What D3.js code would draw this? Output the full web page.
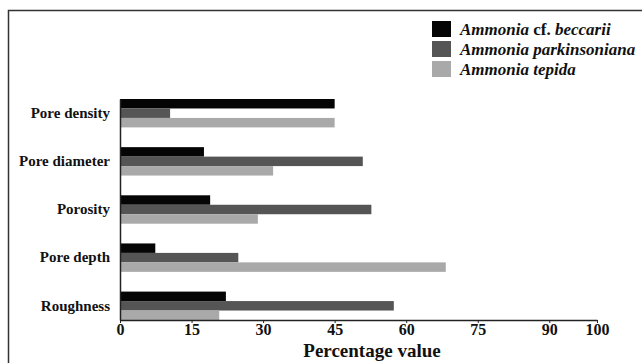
<!DOCTYPE html>
<html>
<head>
<meta charset="utf-8">
<script src="https://d3js.org/d3.v7.min.js"></script>
<style>
body { margin: 0; background: #fff; }
svg { display: block; }
</style>
</head>
<body>
<svg id="chart"></svg>
<script>
// data
const categories = ["Pore density", "Pore diameter", "Porosity", "Pore depth", "Roughness"];
const species = ["beccarii", "parkinsoniana", "tepida"];
const beccarii      = [45, 17.6, 18.9, 7.4, 22.2];
const parkinsoniana = [10.5, 50.9, 52.7, 24.8, 57.4];
const tepida        = [45, 32.1, 28.9, 68.3, 20.8];
const xTicks = [0, 15, 30, 45, 60, 75, 90, 100];

const colors = ["#050505", "#555555", "#a9a9a9"];
const serif = "'Liberation Serif', 'Times New Roman', serif";

const width = 642, height = 363;
const svg = d3.select("#chart").attr("width", width).attr("height", height);

// outer frame (top + left only)
svg.append("path")
    .attr("d", "M8.5,363 V10.5 H642")
    .attr("fill", "none")
    .attr("stroke", "#333")
    .attr("stroke-width", 1.5);

const x = d3.scaleLinear().domain([0, 100]).range([120, 597]);
const y = d3.scaleBand().domain(categories).range([99, 320]).paddingInner(0.41).paddingOuter(0);
const y1 = d3.scaleBand().domain(species).range([0, y.bandwidth()]);

const rows = categories.map((c, i) => ({ cat: c, vals: [beccarii[i], parkinsoniana[i], tepida[i]] }));

const groups = svg.selectAll("g.grp")
    .data(rows)
    .enter().append("g")
    .attr("class", "grp")
    .attr("transform", d => `translate(0,${y(d.cat)})`);

groups.selectAll("rect")
    .data(d => d.vals.map((v, j) => ({ k: species[j], v: v, j: j })))
    .enter().append("rect")
    .attr("x", x(0))
    .attr("y", d => y1(d.k))
    .attr("width", d => x(d.v) - x(0))
    .attr("height", y1.bandwidth())
    .attr("fill", d => colors[d.j]);

// x axis
const xAxis = svg.append("g")
    .attr("transform", "translate(0,320)")
    .call(d3.axisBottom(x).tickValues(xTicks).tickSize(3).tickSizeOuter(0));
xAxis.select(".domain").attr("stroke", "#222").attr("stroke-width", 1.5);
xAxis.selectAll(".tick line").attr("stroke", "#222");
xAxis.selectAll("text")
    .attr("font-family", serif)
    .attr("font-weight", "bold")
    .attr("font-size", 16)
    .attr("fill", "#111")
    .attr("dy", "0.75em")
    .attr("y", 3);

// y axis
const yAxis = svg.append("g")
    .attr("transform", "translate(120,0)")
    .call(d3.axisLeft(y).tickSize(0).tickPadding(10));
yAxis.select(".domain").attr("stroke", "#222").attr("stroke-width", 1.5);
yAxis.selectAll("text")
    .attr("font-family", serif)
    .attr("font-weight", "bold")
    .attr("font-size", 15)
    .attr("fill", "#111");

svg.append("text")
    .attr("x", 372)
    .attr("y", 357)
    .attr("text-anchor", "middle")
    .attr("font-family", serif)
    .attr("font-weight", "bold")
    .attr("font-size", 19)
    .attr("fill", "#111")
    .text("Percentage value");

// legend
const legendLabels = [
    [["Ammonia", true], [" cf. ", false], ["beccarii", true]],
    [["Ammonia parkinsoniana", true]],
    [["Ammonia tepida", true]]
];
const legend = svg.append("g");
legendLabels.forEach((parts, i) => {
    legend.append("rect")
        .attr("x", 432).attr("y", 21 + i * 20)
        .attr("width", 19).attr("height", 16)
        .attr("fill", colors[i]);
    const t = legend.append("text")
        .attr("x", 460).attr("y", 35 + i * 20)
        .attr("font-family", serif)
        .attr("font-weight", "bold")
        .attr("font-size", 17)
        .attr("fill", "#111");
    parts.forEach(p => {
        t.append("tspan")
            .attr("font-style", p[1] ? "italic" : "normal")
            .text(p[0]);
    });
});
</script>
</body>
</html>
